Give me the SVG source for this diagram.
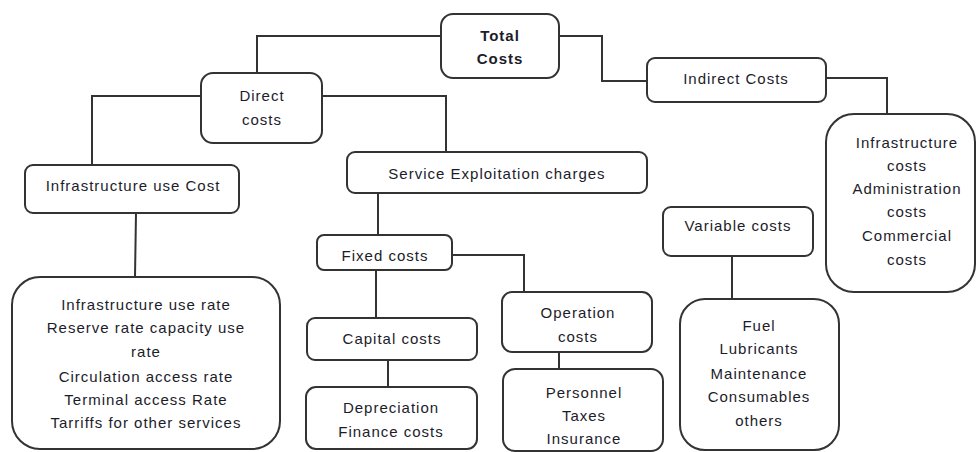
<svg xmlns="http://www.w3.org/2000/svg" width="978" height="452" viewBox="0 0 978 452">
<style>
.box{fill:#fff;stroke:#333;stroke-width:2}
.ln{fill:none;stroke:#333;stroke-width:2}
text{font-family:"Liberation Sans",Arial,sans-serif;font-size:15px;fill:#1c1c2a;text-anchor:middle;letter-spacing:1px}
.b{font-weight:bold}
</style>
<rect width="978" height="452" fill="#fff"/>
<g id="connectors">
<polyline class="ln" points="441,36 257,36 257,73"/>
<polyline class="ln" points="559,36 602,36 602,81 647,81"/>
<polyline class="ln" points="201,96 92,96 92,165"/>
<polyline class="ln" points="322,96 446,96 446,152"/>
<polyline class="ln" points="826,78 887,78 887,114"/>
<polyline class="ln" points="136,213 135,277"/>
<polyline class="ln" points="378,193 378,235"/>
<polyline class="ln" points="452,255 524,255 524,292"/>
<polyline class="ln" points="376,270 376,318"/>
<polyline class="ln" points="388,360 388,387"/>
<polyline class="ln" points="559,352 559,369"/>
<polyline class="ln" points="732,256 732,299"/>
</g>
<g id="total">
<rect class="box" x="441" y="14" width="118" height="64" rx="12"/>
<text class="b" x="500" y="41">Total</text>
<text class="b" x="500" y="64">Costs</text>
</g>
<g id="direct">
<rect class="box" x="201" y="73" width="121" height="70" rx="12"/>
<text x="262" y="101">Direct</text>
<text x="262" y="125">costs</text>
</g>
<g id="indirect">
<rect class="box" x="647" y="58" width="179" height="44" rx="8"/>
<text x="736" y="84">Indirect Costs</text>
</g>
<g id="infra-use">
<rect class="box" x="25" y="165" width="214" height="48" rx="8"/>
<text x="133" y="191">Infrastructure use Cost</text>
</g>
<g id="service">
<rect class="box" x="347" y="152" width="300" height="41" rx="8"/>
<text x="497" y="179">Service Exploitation charges</text>
</g>
<g id="indirect-list">
<rect class="box" x="826" y="114" width="149" height="178" rx="28"/>
<text x="907" y="148">Infrastructure</text>
<text x="907" y="171">costs</text>
<text x="907" y="194">Administration</text>
<text x="907" y="217">costs</text>
<text x="907" y="241">Commercial</text>
<text x="907" y="265">costs</text>
</g>
<g id="infra-list">
<rect class="box" x="12" y="277" width="268" height="172" rx="28"/>
<text x="146" y="310">Infrastructure use rate</text>
<text x="146" y="333">Reserve rate capacity use</text>
<text x="146" y="357">rate</text>
<text x="146" y="382">Circulation access rate</text>
<text x="146" y="405">Terminal access Rate</text>
<text x="146" y="428">Tarriffs for other services</text>
</g>
<g id="fixed">
<rect class="box" x="317" y="235" width="135" height="35" rx="7"/>
<text x="385" y="261">Fixed costs</text>
</g>
<g id="capital">
<rect class="box" x="307" y="318" width="170" height="42" rx="8"/>
<text x="392" y="344">Capital costs</text>
</g>
<g id="depreciation">
<rect class="box" x="306" y="387" width="171" height="62" rx="10"/>
<text x="391" y="413">Depreciation</text>
<text x="391" y="437">Finance costs</text>
</g>
<g id="operation">
<rect class="box" x="502" y="292" width="150" height="60" rx="10"/>
<text x="578" y="318">Operation</text>
<text x="578" y="342">costs</text>
</g>
<g id="personnel">
<rect class="box" x="503" y="369" width="160" height="82" rx="12"/>
<text x="584" y="398">Personnel</text>
<text x="584" y="421">Taxes</text>
<text x="584" y="444">Insurance</text>
</g>
<g id="variable">
<rect class="box" x="663" y="207" width="150" height="49" rx="8"/>
<text x="738" y="231">Variable costs</text>
</g>
<g id="variable-list">
<rect class="box" x="680" y="299" width="159" height="151" rx="25"/>
<text x="759" y="331">Fuel</text>
<text x="759" y="354">Lubricants</text>
<text x="759" y="379">Maintenance</text>
<text x="759" y="402">Consumables</text>
<text x="759" y="426">others</text>
</g>
</svg>
